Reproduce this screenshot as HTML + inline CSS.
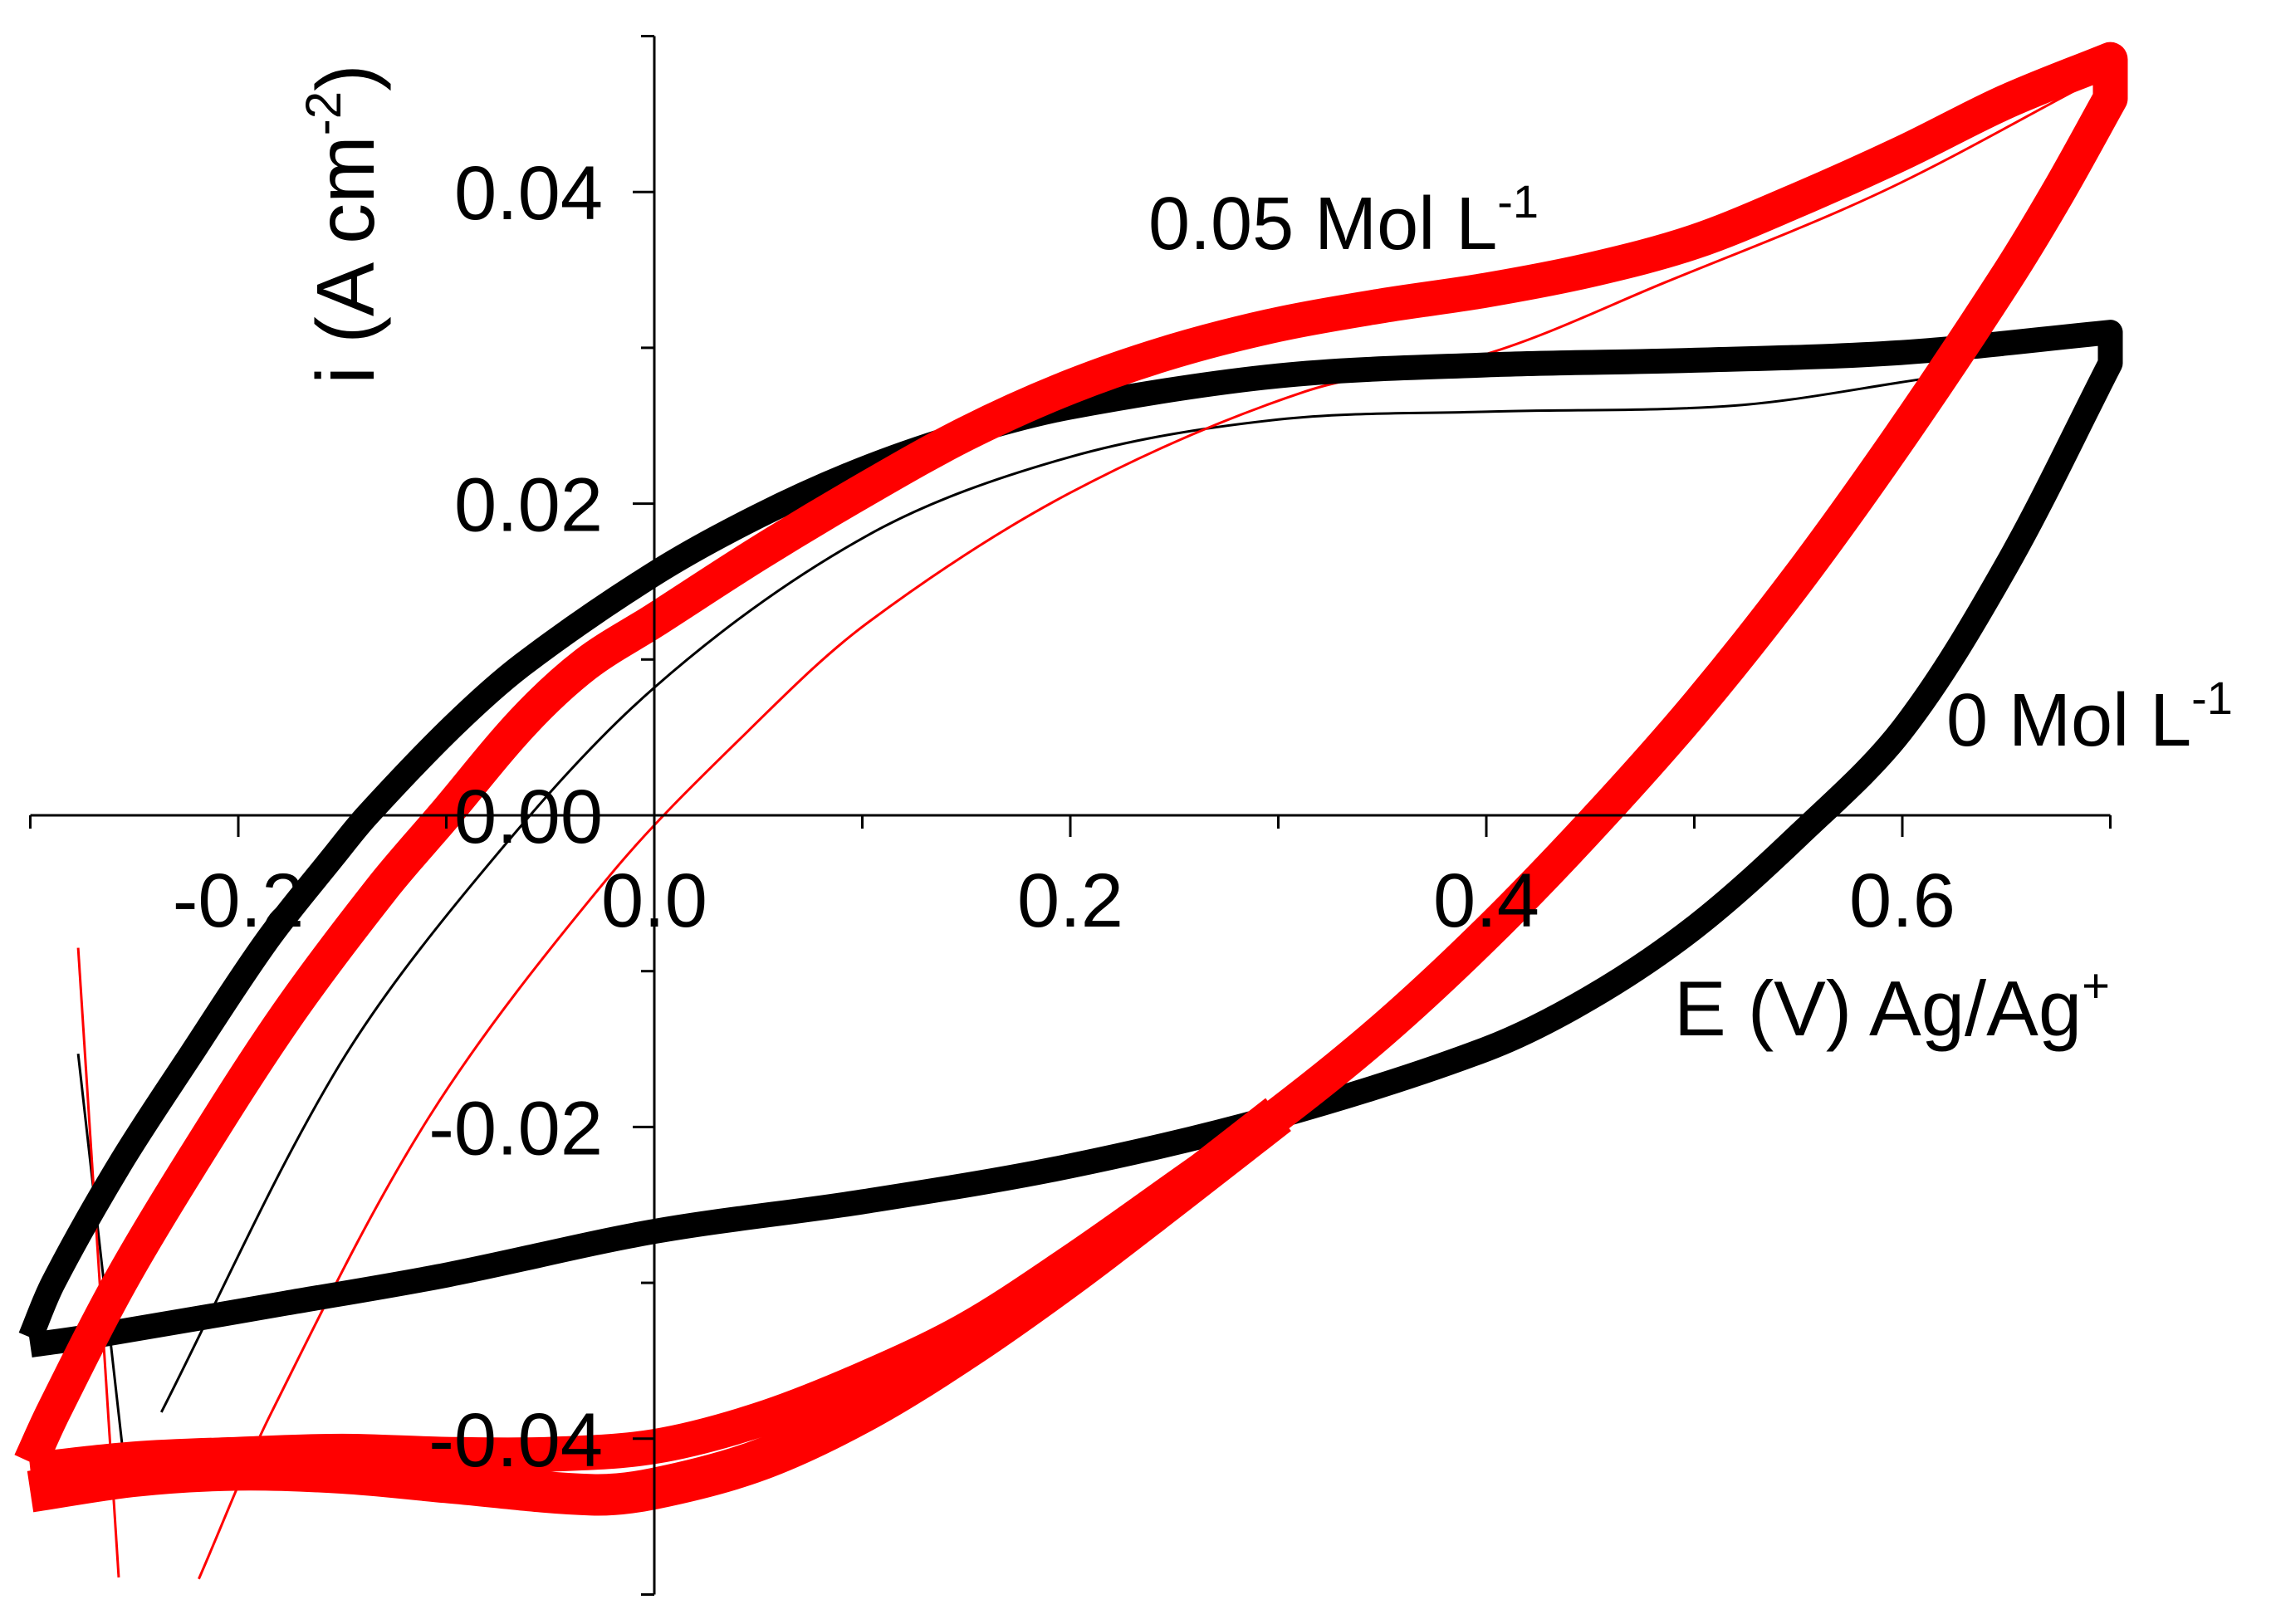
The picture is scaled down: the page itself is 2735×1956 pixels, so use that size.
<!DOCTYPE html>
<html><head><meta charset="utf-8"><style>
html,body{margin:0;padding:0;background:#fff}
svg{display:block}
text{font-family:"Liberation Sans",sans-serif;fill:#000}
</style></head><body>
<svg id="chart" width="2735" height="1956" viewBox="0 0 2735 1956" xmlns="http://www.w3.org/2000/svg">
<g id="curves"></g>
<g id="axes"></g>
<text transform="translate(450,270) rotate(-90)" text-anchor="middle" font-size="98">i (A cm<tspan font-size="60" dy="-40">-2</tspan><tspan dy="40">)</tspan></text>
<text x="1383" y="300" font-size="90">0.05 Mol L<tspan font-size="56" dy="-38">-1</tspan></text>
<text x="2344" y="898" font-size="90">0 Mol L<tspan font-size="56" dy="-38">-1</tspan></text>
<text x="2016" y="1247" font-size="94">E (V) Ag/Ag<tspan font-size="58" dy="-40">+</tspan></text>
</svg>
<script>
const xTicks = [-0.2, 0.0, 0.2, 0.4, 0.6];
const xTickLabels = ["-0.2", "0.0", "0.2", "0.4", "0.6"];
const yTicks = [-0.04, -0.02, 0.00, 0.02, 0.04];
const yTickLabels = ["-0.04", "-0.02", "0.00", "0.02", "0.04"];
const blackFwdE = [-0.3, -0.289, -0.257, -0.223, -0.186, -0.154, -0.138, -0.097, -0.063, 0, 0.05, 0.1, 0.15, 0.2, 0.3, 0.4, 0.5, 0.6, 0.7];
const blackFwdI = [-0.0335, -0.030, -0.0224, -0.0154, -0.008, -0.0026, 0, 0.0057, 0.0097, 0.0155, 0.0192, 0.0222, 0.0245, 0.0262, 0.0282, 0.0289, 0.0292, 0.0297, 0.031];
const blackRevE = [0.7, 0.65, 0.6, 0.55, 0.5, 0.45, 0.4, 0.3, 0.2, 0.1, 0, -0.1, -0.177, -0.269, -0.3];
const blackRevI = [0.029, 0.016, 0.0055, -0.0013, -0.0072, -0.0117, -0.015, -0.0193, -0.0225, -0.0248, -0.0267, -0.0295, -0.0313, -0.0334, -0.0340];
const redFwdE = [-0.3, -0.289, -0.257, -0.223, -0.177, -0.131, -0.101, -0.063, -0.033, 0, 0.05, 0.1, 0.15, 0.2, 0.25, 0.3, 0.35, 0.4, 0.45, 0.5, 0.55, 0.6, 0.65, 0.7];
const redFwdI = [-0.0415, -0.0383, -0.030, -0.0224, -0.0129, -0.0047, 0, 0.006, 0.0097, 0.0125, 0.0168, 0.0208, 0.0245, 0.0275, 0.0298, 0.0315, 0.0327, 0.0337, 0.035, 0.0368, 0.0395, 0.0425, 0.0458, 0.0485];
const redRevE = [0.7, 0.675, 0.65, 0.6, 0.55, 0.5, 0.45, 0.4, 0.35, 0.3, 0.25, 0.2, 0.15, 0.1, 0.05, 0, -0.05, -0.1, -0.15, -0.2, -0.25, -0.3];
const redRevI = [0.046, 0.040, 0.0345, 0.0245, 0.0152, 0.0068, -0.0007, -0.0076, -0.0138, -0.0192, -0.024, -0.0287, -0.033, -0.0362, -0.0388, -0.0405, -0.041, -0.041, -0.0408, -0.0410, -0.0413, -0.042];
const redLastE = [0.3, 0.25, 0.2, 0.15, 0.1, 0.05, 0, -0.03, -0.1, -0.15, -0.2, -0.25, -0.3];
const redLastI = [-0.0192, -0.0244, -0.0295, -0.0342, -0.0383, -0.0414, -0.0432, -0.0436, -0.0428, -0.0422, -0.0420, -0.0424, -0.0434];
const blackThinE = [-0.237, -0.154, -0.085, 0, 0.103, 0.2, 0.3, 0.4, 0.52, 0.61];
const blackThinI = [-0.0383, -0.0166, -0.004, 0.0082, 0.018, 0.023, 0.0254, 0.0259, 0.0263, 0.028];
const redThinE = [-0.219, -0.184, -0.108, -0.021, 0.045, 0.103, 0.2, 0.313, 0.4, 0.486, 0.59, 0.69];
const redThinI = [-0.049, -0.0383, -0.0193, -0.0038, 0.0054, 0.0124, 0.0207, 0.0272, 0.0296, 0.0342, 0.040, 0.047];

const X = e => 788 + e * 2505;
const Y = v => 982 - v * 18770;
const NS = "http://www.w3.org/2000/svg";
function mk(tag, attrs, parent) {
  const el = document.createElementNS(NS, tag);
  for (const k in attrs) el.setAttribute(k, attrs[k]);
  parent.appendChild(el);
  return el;
}
const dist = (a, b) => Math.hypot(b[0] - a[0], b[1] - a[1]) || 1e-6;
function spline(E, I) {
  const p = E.map((e, k) => [X(e), Y(I[k])]);
  let d = "M" + p[0][0] + "," + p[0][1];
  for (let k = 0; k < p.length - 1; k++) {
    const p0 = p[k - 1] || p[k], p1 = p[k], p2 = p[k + 1], p3 = p[k + 2] || p2;
    const d01 = k > 0 ? dist(p0, p1) : 0, d12 = dist(p1, p2), d23 = k + 2 < p.length ? dist(p2, p3) : 0;
    const f1 = d12 / (d12 + d01) / 3, f2 = d12 / (d12 + d23) / 3;
    const c1 = [p1[0] + (p2[0] - p0[0]) * f1, p1[1] + (p2[1] - p0[1]) * f1];
    const c2 = [p2[0] - (p3[0] - p1[0]) * f2, p2[1] - (p3[1] - p1[1]) * f2];
    d += " C" + c1 + " " + c2 + " " + p2;
  }
  return d;
}
const cg = document.getElementById("curves");
const ag = document.getElementById("axes");

let el;
el = mk("path", {d: spline(blackThinE, blackThinI), fill: "none", stroke: "#000", "stroke-width": 3}, cg);


el = mk("path", {d: spline(redThinE, redThinI), fill: "none", stroke: "#f00", "stroke-width": 3}, cg);


el = mk("line", {x1: X(-0.277), y1: Y(-0.0153), x2: X(-0.2555), y2: Y(-0.0408), stroke: "#000", "stroke-width": 3}, cg);


el = mk("line", {x1: X(-0.277), y1: Y(-0.0085), x2: X(-0.2575), y2: Y(-0.0489), stroke: "#f00", "stroke-width": 3}, cg);



el = mk("path", {d: spline(blackFwdE, blackFwdI) + " " + spline(blackRevE, blackRevI).replace("M", "L"), fill: "none", stroke: "#000", "stroke-width": 30, "stroke-linejoin": "round"}, cg);


el = mk("path", {d: spline(redLastE, redLastI), fill: "none", stroke: "#f00", "stroke-width": 50, "stroke-linecap": "butt"}, cg);


el = mk("path", {d: spline(redFwdE, redFwdI) + " " + spline(redRevE, redRevI).replace("M", "L"), fill: "none", stroke: "#f00", "stroke-width": 42, "stroke-linejoin": "round"}, cg);



el = mk("line", {x1: X(-0.3), y1: Y(0), x2: X(0.7), y2: Y(0), stroke: "#000", "stroke-width": 3}, ag);


el = mk("line", {x1: X(0), y1: Y(0.05), x2: X(0), y2: Y(-0.05), stroke: "#000", "stroke-width": 3}, ag);


for (let k = -3; k <= 7; k++) {
  const major = k % 2 === 0;
  el = mk("line", {x1: X(k / 10), y1: Y(0), x2: X(k / 10), y2: Y(0) + (major ? 26 : 16), stroke: "#000", "stroke-width": 3}, ag);
  
  
}
for (let k = -5; k <= 5; k++) {
  const major = k % 2 === 0;
  el = mk("line", {x1: X(0), y1: Y(k / 100), x2: X(0) - (major ? 26 : 16), y2: Y(k / 100), stroke: "#000", "stroke-width": 3}, ag);
  
  
}
xTicks.forEach((t, k) => {
  el = mk("text", {x: X(t), y: 1116, "text-anchor": "middle", "font-size": 92}, ag);
  el.textContent = xTickLabels[k];
  
  
});
yTicks.forEach((t, k) => {
  el = mk("text", {x: 726, y: Y(t) + 33, "text-anchor": "end", "font-size": 92}, ag);
  el.textContent = yTickLabels[k];
  
  
});
</script>
</body></html>
